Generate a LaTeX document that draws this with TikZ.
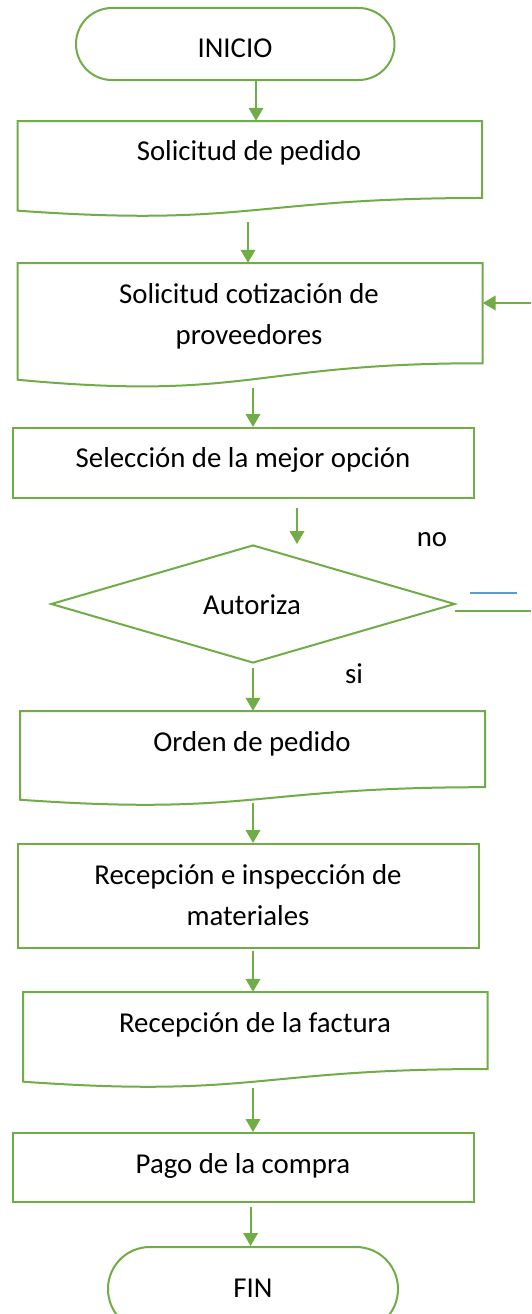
\documentclass[tikz,border=0pt]{standalone}
\usepackage{fontspec}
\setmainfont{Carlito}
\usetikzlibrary{arrows.meta,shapes.geometric}
\definecolor{flowgreen}{HTML}{70AD47}
\definecolor{flowblue}{HTML}{5B9BD5}
\newcommand\docpath[4]{%
  \draw[outline] (#1,#3) -- (#2,#3) -- (#2,{#3+0.802*#4})
    .. controls ({(#1+#2)/2},{#3+0.802*#4}) and ({(#1+#2)/2},{#3+1.107*#4}) ..
    (#1,{#3+0.934*#4}) -- cycle;}
\tikzset{
  outline/.style={draw=flowgreen, line width=2pt, line join=miter},
  area/.style={rectangle, inner sep=0pt, draw=none},
  txt/.style={font=\fontsize{28.8}{41}\selectfont, inner sep=0pt, anchor=base, align=center},
  arr/.style={draw=flowgreen, line width=2pt, -{Triangle[width=14.5pt,length=13pt]}},
}
\begin{document}
\begin{tikzpicture}[x=1pt,y=-1pt]
\clip (0,0) rectangle (531,1314);
\fill[white] (0,0) rectangle (531,1314);
% columns
\coordinate (xa) at (256,0);
\coordinate (xb) at (248,0);
\coordinate (xc) at (253,0);
\coordinate (xd) at (297,0);
\coordinate (xe) at (250.6,0);
% shapes
\node[outline, rectangle, rounded corners=35.9pt, minimum width=318.5pt, minimum height=72pt, inner sep=0pt] (inicio) at (235.25,44) {};
\node[area, minimum width=464.4pt, minimum height=96pt] (d1) at (249.8,169) {};
\docpath{17.6}{482}{121}{96}
\node[area, minimum width=464.9pt, minimum height=125pt] (d2) at (250.05,325.5) {};
\docpath{17.6}{482.5}{263}{125}
\node[outline, rectangle, minimum width=461.5pt, minimum height=70pt, inner sep=0pt] (sel) at (243.25,463) {};
\node[outline, diamond, minimum width=404pt, minimum height=118pt, inner sep=0pt] (dia) at (253,604) {};
\node[area, minimum width=465pt, minimum height=95pt] (d3) at (252.5,758.5) {};
\docpath{20}{485}{711}{95}
\node[outline, rectangle, minimum width=461.4pt, minimum height=104pt, inner sep=0pt] (rec) at (248.3,896) {};
\node[area, minimum width=464.6pt, minimum height=96pt] (d4) at (255.3,1040) {};
\docpath{23}{487.6}{992}{96}
\node[outline, rectangle, minimum width=461.5pt, minimum height=69pt, inner sep=0pt] (pago) at (243.25,1167.5) {};
\node[outline, rectangle, rounded corners=41.9pt, minimum width=290pt, minimum height=84pt, inner sep=0pt] (fin) at (253,1289) {};
% texts
\node[txt] (tinicio) at (235,58) {INICIO};
\node[txt] (td1) at (249,160) {Solicitud de pedido};
\node[txt] (td2) at (249,344) {Solicitud cotización de\\proveedores};
\node[txt] (tsel) at (243,467) {Selección de la mejor opción};
\node[txt] (tdia) at (252,614) {Autoriza};
\node[txt] (tno) at (432,546) {no};
\node[txt] (tsi) at (354,683) {si};
\node[txt] (td3) at (252,751) {Orden de pedido};
\node[txt] (trec) at (248,925) {Recepción e inspección de\\materiales};
\node[txt] (td4) at (255,1032) {Recepción de la factura};
\node[txt] (tpago) at (243,1173) {Pago de la compra};
\node[txt] (tfin) at (253,1297) {FIN};
% connectors
\coordinate (inright) at (531,303);
\coordinate (noend) at (531,611);
\draw[arr] (inicio.south -| xa) -- (d1.north -| xa);
\draw[arr, shorten <=5pt] (d1.south -| xb) -- (d2.north -| xb);
\draw[arr] (inright) -- (d2.east |- inright);
\draw[arr] (d2.south -| xc) -- (sel.north -| xc);
\draw[arr, shorten <=9pt] (sel.south -| xd) -- (dia.north -| xd);
\draw[arr, shorten <=4pt] (dia.south -| xc) -- (d3.north -| xc);
\draw[arr, shorten <=-3pt] (d3.south -| xc) -- (rec.north -| xc);
\draw[arr, shorten <=2pt] (rec.south -| xc) -- (d4.north -| xc);
\draw[arr] (d4.south -| xc) -- (pago.north -| xc);
\draw[arr, shorten <=4pt] (pago.south -| xe) -- (fin.north -| xe);
\draw[draw=flowgreen, line width=1.2pt] ([xshift=-1pt,yshift=-7pt]dia.east) -- (noend);
\draw[draw=flowblue, line width=1.2pt] (470,593) -- (517,593);
\end{tikzpicture}
\end{document}
